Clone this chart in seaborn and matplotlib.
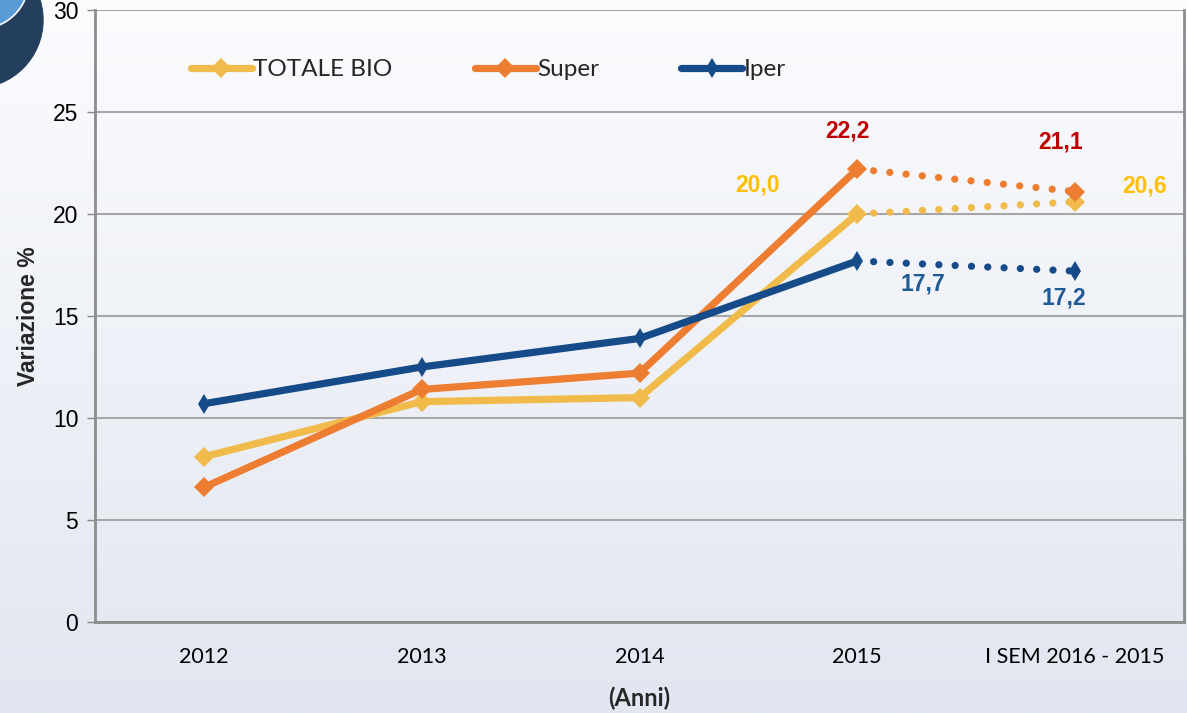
import numpy as np
import pandas as pd
import matplotlib
matplotlib.use("Agg")
import matplotlib.pyplot as plt
import seaborn as sns
from matplotlib.patches import Circle
from matplotlib.lines import Line2D

# ---- data ----
categories = ["2012", "2013", "2014", "2015", "I SEM 2016 - 2015"]
totale_bio = [8.1, 10.8, 11.0, 20.0, 20.6]
super_vals = [6.6, 11.4, 12.2, 22.2, 21.1]
iper_vals = [10.7, 12.5, 13.9, 17.7, 17.2]
series_names = ["TOTALE BIO", "Super", "Iper"]
yticks = [0, 5, 10, 15, 20, 25, 30]
x_title = "(Anni)"
y_title = "Variazione %"

sns.set_theme(style="white")
plt.rcParams["font.family"] = ["Liberation Sans", "DejaVu Sans"]

W, H = 1187, 713
fig = plt.figure(figsize=(W / 100, H / 100), dpi=100)

# background gradient + decorative circle
bg = fig.add_axes([0, 0, 1, 1], zorder=-10)
grad = np.linspace(0, 1, 256).reshape(-1, 1)
top = np.array([0xfb, 0xfc, 0xfe]) / 255
bot = np.array([0xe1, 0xe6, 0xf0]) / 255
img = top + (bot - top) * grad[..., None]
bg.imshow(img, extent=[0, W, H, 0], aspect="auto")
bg.add_patch(Circle((-25, 20), 68, color="#243f5e"))
bg.add_patch(Circle((-20, -20), 49, facecolor="#5b9bd5", edgecolor="white", lw=1.2))
bg.set_xlim(0, W)
bg.set_ylim(H, 0)
bg.axis("off")

ax = fig.add_axes([95 / W, 1 - 622 / H, (1184 - 95) / W, (622 - 10) / H])
ax.patch.set_alpha(0)

colors = {"TOTALE BIO": "#f0bb4b", "Super": "#ed7d31", "Iper": "#164b89"}
markers = {"TOTALE BIO": ("D", 10), "Super": ("D", 10), "Iper": ("d", 10)}
values = {"TOTALE BIO": totale_bio, "Super": super_vals, "Iper": iper_vals}

xs = list(range(len(categories)))
for name in series_names:
    df = pd.DataFrame({"x": xs, "y": values[name]})
    solid = df.iloc[:4]
    dotted = df.iloc[3:]
    m, ms = markers[name]
    sns.lineplot(data=solid, x="x", y="y", ax=ax, color=colors[name], lw=5.2,
                 marker=m, markersize=ms, markeredgewidth=0, legend=False,
                 solid_capstyle="round", zorder=3)
    sns.lineplot(data=dotted, x="x", y="y", ax=ax, color=colors[name], lw=5.2,
                 linestyle=(0, (0.01, 2.25)), dash_capstyle="round", legend=False, zorder=3)
    sns.lineplot(data=dotted.iloc[1:], x="x", y="y", ax=ax, color=colors[name], lw=0,
                 marker=m, markersize=ms, markeredgewidth=0, legend=False, zorder=4)

# data labels
lab_font = dict(fontsize=16.5, fontweight="bold", ha="center", va="center")
label_specs = [
    ("Super", 3, "#c00000", (-10, 38)),
    ("Super", 4, "#c00000", (-15, 50)),
    ("TOTALE BIO", 3, "#ffc000", (-100, 29)),
    ("TOTALE BIO", 4, "#ffc000", (69, 16)),
    ("Iper", 3, "#1f5a96", (66, -23)),
    ("Iper", 4, "#1f5a96", (-11, -27)),
]
for name, i, c, off in label_specs:
    v = values[name][i]
    ax.annotate(f"{v:.1f}".replace(".", ","), (xs[i], v), xytext=off,
                textcoords="offset pixels", color=c, **lab_font)

ax.set_xlim(-0.5, len(categories) - 0.5)
ax.set_ylim(0, 30)
ax.set_yticks(yticks)
ax.set_yticklabels([str(t) for t in yticks], fontsize=16.5, color="#000000")
ax.set_xticks(xs)
ax.set_xticklabels(categories, fontsize=15.5, family="Lato", color="#000000")
ax.set_xticks(np.arange(-0.5, len(categories), 1.0), minor=True)
ax.tick_params(axis="x", which="major", length=0, pad=18)
ax.tick_params(axis="x", which="minor", length=6, width=1, color="#888888", direction="out")
ax.tick_params(axis="y", length=6, width=1, color="#888888", direction="out", left=True, pad=6)
ax.yaxis.grid(True, color="#a6a6a6", lw=1.5)
ax.set_axisbelow(True)
for s in ["left", "bottom", "right"]:
    ax.spines[s].set_visible(True)
    ax.spines[s].set_color("#8c8c8c")
    ax.spines[s].set_linewidth(2)
ax.spines["top"].set_visible(False)

ax.set_xlabel(x_title, fontsize=17, fontweight="bold", family="Lato", labelpad=14)
ax.set_ylabel(y_title, fontsize=16.5, fontweight="bold", labelpad=9)

handles = [Line2D([0], [0], color=colors[n], lw=5.2, marker=markers[n][0],
                  markersize=markers[n][1], markeredgewidth=0, solid_capstyle="round")
           for n in series_names]
ax.legend(handles, series_names, loc="upper left", bbox_to_anchor=(0.068, 0.955), ncol=3,
          frameon=False, handlelength=2.5, handletextpad=0.05, columnspacing=3.4,
          prop={"family": "Lato", "size": 17.5})

fig.savefig("out.png", dpi=100)
